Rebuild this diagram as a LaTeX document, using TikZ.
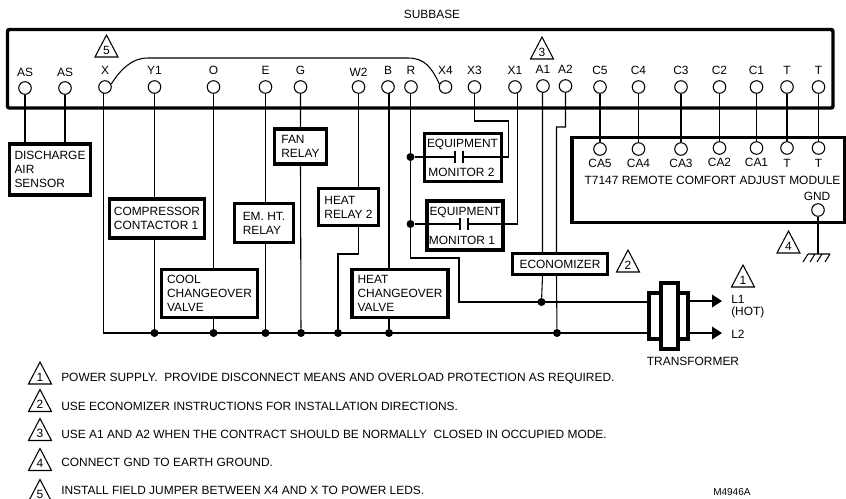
\documentclass[tikz,border=0pt]{standalone}
\usepackage{fontspec}
\usetikzlibrary{calc}
\setmainfont{Liberation Sans}
\begin{document}
\begin{tikzpicture}[x=0.75pt,y=-0.75pt,
  wire/.style={line width=0.8pt,line join=miter},
  term/.style={circle,draw,line width=0.8pt,fill=white,minimum size=9.4pt,inner sep=0pt},
  tlabel/.style={font=\fontsize{8.95pt}{10pt}\selectfont,inner sep=0pt},
  legend/.style={font=\fontsize{8.95pt}{9.6pt}\selectfont,inner sep=0pt,anchor=west},
  bx/.style={draw,line width=2.6pt,fill=white,inner sep=0pt,align=left,
     font=\fontsize{8.95pt}{10.4pt}\selectfont},
  dot/.style={circle,fill=black,inner sep=0pt,minimum size=6pt},
  tri/.style={line width=0.8pt,line join=miter},
  num/.style={font=\fontsize{8.95pt}{10pt}\selectfont,inner sep=0pt}]
\useasboundingbox (0,0) rectangle (846,499);
\clip (0,0) rectangle (846,499);

\node[tlabel] (subbase) at (432,14) {SUBBASE};
\draw[line width=2.6pt,rounded corners=1.5pt] (7.5,29.5) rectangle (833,108);

% top terminals
\foreach \n/\x/\y/\l/\ly in {AS1/25/88/AS/72,AS2/65/88/AS/72,X/105/87/X/70,Y1/154.5/87/Y1/70,O/213.5/87/O/70,E/265.5/87/E/70,G/300.5/87/G/70,W2/358.5/87/W2/72,B/388/87/B/70,R/411/87/R/70,X4/445.5/87/X4/70,X3/474.5/87/X3/70,X1/515/87/X1/70,A1/543/86/A1/69,A2/565.5/86/A2/69,C5/600/87/C5/70,C4/638.5/87/C4/70,C3/681/87/C3/70,C2/719.5/87/C2/70,C1/756.5/87/C1/70,T1/787/87/T/70,T2/818.5/87/T/70}{
  \node[term] (t\n) at (\x,\y) {};
  \node[tlabel] (l\n) at (\x,\ly) {\l};
}
% lower module
\node[bx,minimum width=204.7pt,minimum height=64pt] (module) at (708.5,180) {};
\foreach \n/\x/\y/\l/\ly in {CA5/600/149/CA5/163,CA4/638.5/149/CA4/163,CA3/681/149/CA3/163,CA2/719.5/148/CA2/162,CA1/756.5/148/CA1/162,Ta/787/148/T/163,Tb/818.5/148/T/163}{
  \node[term] (t\n) at (\x,\y) {};
  \node[tlabel] (l\n) at (\x,\ly) {\l};
}
\node[tlabel] (modtxt) at (712.5,180) {T7147 REMOTE COMFORT ADJUST MODULE};
\node[tlabel] (gndl) at (817,196) {GND};
\node[term] (tGND) at (818,210) {};

% boxes
\node[bx,minimum width=61pt,minimum height=38pt] (bDis) at (50,169.5) {DISCHARGE\\AIR\\SENSOR};
\node[bx,minimum width=71pt,minimum height=29.5pt] (bCom) at (157,218.5) {COMPRESSOR\\CONTACTOR 1};
\node[bx,minimum width=72pt,minimum height=36pt] (bCoo) at (209.5,293.5) {COOL\\CHANGEOVER\\VALVE};
\node[bx,minimum width=44pt,minimum height=29pt] (bEm) at (264,223) {EM. HT.\\RELAY};
\node[bx,minimum width=39pt,minimum height=26.5pt] (bFan) at (300.5,146.5) {FAN\\RELAY};
\node[bx,minimum width=45pt,minimum height=27.5pt] (bHr) at (348.5,207) {HEAT\\RELAY 2};
\node[bx,minimum width=72pt,minimum height=36pt] (bHc) at (400,293.5) {HEAT\\CHANGEOVER\\VALVE};
\node[bx,minimum width=71pt,minimum height=15.5pt] (bEco) at (560,264) {ECONOMIZER};
\node[bx,minimum width=58pt,minimum height=36pt] (bM2) at (463,157.5) {};
\node[bx,minimum width=57pt,minimum height=37pt] (bM1) at (465,225.5) {};
\node[tlabel] (m2a) at (462.5,144) {EQUIPMENT};
\node[tlabel] (m2b) at (461.5,172) {MONITOR 2};
\node[tlabel] (m1a) at (465,212) {EQUIPMENT};
\node[tlabel] (m1b) at (462,240) {MONITOR 1};

% dots
\foreach \n/\x/\y in {Y1/154.5/333,O/213.5/333,E/265.5/333,G/301/333,J/338/333,B/389/333,A2/557/333,A1/541.5/302,M2/410.5/157,M1/410.5/224}{
  \node[dot] (d\n) at (\x,\y) {};
}

% transformer
\node[draw,line width=2.6pt,fill=white,minimum width=29pt,minimum height=34.5pt,inner sep=0pt] (xfo) at (668.5,316) {};
\node[draw,line width=2.6pt,fill=white,minimum width=13pt,minimum height=49.5pt,inner sep=0pt] (xfi) at (669.5,316) {};
\coordinate (xL1) at (xfo.west |- dA1);
\coordinate (xL2) at (xfo.west |- dA2);

% wires to boxes
\draw[wire] (tAS1) -- (tAS1 |- bDis.north);
\draw[wire] (tAS2) -- (tAS2 |- bDis.north);
\draw[wire] (tX) ++(-1.5,6) -- ++(0,240) -- (xL2);
\draw[wire] (tY1) -- (tY1 |- bCom.north) (tY1 |- bCom.south) -- (dY1);
\draw[wire] (tO) -- (tO |- bCoo.north) (tO |- bCoo.south) -- (dO);
\draw[wire] (tE) -- (tE |- bEm.north) (tE |- bEm.south) -- (dE);
\draw[wire] (tG) -- (tG |- bFan.north) (tG |- bFan.south) -- (dG);
\draw[wire] (tW2) -- (tW2 |- bHr.north) (tW2 |- bHr.south) -- (358.5,254) -| (dJ);
\draw[wire] (tB) ++(1,6) -- (dB |- bHc.north) (dB |- bHc.south) -- (dB);
\draw[wire] (tR) ++(-0.5,6) -- (410.5,258) -- (459,258) |- (xL1);
\draw[wire] (tA1) ++(-0.5,6) -- (542.5,252) (542.5,276) -- (dA1);
\draw[wire] (tA2) -- (565.5,127) -- (556.5,127) -- (556.5,252) (556.5,276) -- (dA2);
\foreach \a/\b in {C5/CA5,C4/CA4,C3/CA3,C2/CA2,C1/CA1,T1/Ta,T2/Tb}{
  \draw[wire] (t\a) -- (t\b);
}
% jumper
\draw[wire] (tX.25) .. controls (119,72) and (130,58) .. (148,58) -- (408,58) .. controls (425,58) and (432,68) .. (tX4.155);

% monitor contacts
\coordinate (c2l) at (455,157); \coordinate (c2r) at (463,157);
\coordinate (c1l) at (460,224); \coordinate (c1r) at (468,224);
\draw[wire] (dM2) -- (c2l) (c2r) -- (508.5,157) |- (474.5,121) -- (tX3);
\draw[wire] (c2l) ++(0,-6) -- ++(0,12) (c2r) ++(0,-6) -- ++(0,12);
\draw[wire] (dM1) -- (c1l) (c1r) -- (517.5,224) -- (517.5,93);
\draw[wire] (c1l) ++(0,-6) -- ++(0,12) (c1r) ++(0,-6) -- ++(0,12);

% outputs
\node[tlabel,anchor=west,align=left,font=\fontsize{8.95pt}{9pt}\selectfont] (L1) at (731,307) {L1\\(HOT)};
\node[tlabel,anchor=west] (L2) at (731,334.5) {L2};
\node[tlabel] (xname) at (693,361) {TRANSFORMER};
\coordinate (aL1) at (722,301); \coordinate (aL2) at (722,333);
\foreach \c in {aL1,aL2}{
  \draw[line width=1.9pt] (xfo.east |- \c) -- ($(\c)+(-8,0)$);
  \fill (\c) -- ($(\c)+(-10,-6.5)$) -- ($(\c)+(-10,6.5)$) -- cycle;
}

% ground
\coordinate (gnd) at (818,254);
\draw[wire] (tGND) -- (gnd);
\draw[wire] (808,254) -- (830,254)
  (808,254) -- (803,262) (815,254) -- (810,262) (822,254) -- (817,262) (830,254) -- (825,262);

% triangles
\foreach \n/\x/\y in {5/106.5/35,3/542/37,2/628/250,4/788.5/231,1/743/265,1/40/362,2/40/389.5,3/40/418.5,4/40/448.5,5/40/479.5}{
  \draw[tri] (\x,\y) -- ++(-11.5,22) -- ++(23,0) -- cycle;
  \node[num] at (\x,\y+15) {\n};
}

% legend
\node[legend] (n1) at (61,378) {POWER SUPPLY.\ \ PROVIDE DISCONNECT MEANS AND OVERLOAD PROTECTION AS REQUIRED.};
\node[legend] (n2) at (61,406) {USE ECONOMIZER INSTRUCTIONS FOR INSTALLATION DIRECTIONS.};
\node[legend] (n3) at (61,434) {USE A1 AND A2 WHEN THE CONTRACT SHOULD BE NORMALLY\ \ CLOSED IN OCCUPIED MODE.};
\node[legend] (n4) at (61,462) {CONNECT GND TO EARTH GROUND.};
\node[legend] (n5) at (61,490) {INSTALL FIELD JUMPER BETWEEN X4 AND X TO POWER LEDS.};
\node[legend,font=\fontsize{7.5pt}{8pt}\selectfont] (ref) at (713,492) {M4946A};
\end{tikzpicture}
\end{document}
